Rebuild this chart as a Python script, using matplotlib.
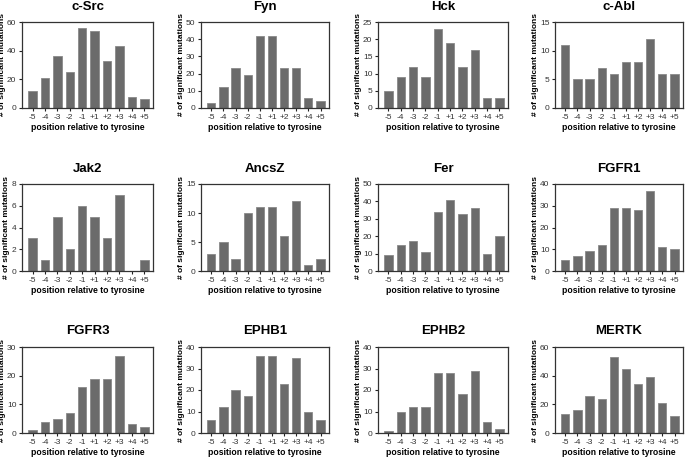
import matplotlib
matplotlib.use("Agg")
import matplotlib.pyplot as plt

positions = ["-5", "-4", "-3", "-2", "-1", "+1", "+2", "+3", "+4", "+5"]

kinases = ["c-Src", "Fyn", "Hck", "c-Abl",
           "Jak2", "AncsZ", "Fer", "FGFR1",
           "FGFR3", "EPHB1", "EPHB2", "MERTK"]

csrc = [12, 21, 36, 25, 56, 54, 33, 43, 8, 6]
fyn = [3, 12, 23, 19, 42, 42, 23, 23, 6, 4]
hck = [5, 9, 12, 9, 23, 19, 12, 17, 3, 3]
cabl = [11, 5, 5, 7, 6, 8, 8, 12, 6, 6]
jak2 = [3, 1, 5, 2, 6, 5, 3, 7, 0, 1]
ancsz = [3, 5, 2, 10, 11, 11, 6, 12, 1, 2]
fer = [9, 15, 17, 11, 34, 41, 33, 36, 10, 20]
fgfr1 = [5, 7, 9, 12, 29, 29, 28, 37, 11, 10]
fgfr3 = [1, 4, 5, 7, 16, 19, 19, 27, 3, 2]
ephb1 = [6, 12, 20, 17, 36, 36, 23, 35, 10, 6]
ephb2 = [1, 10, 12, 12, 28, 28, 18, 29, 5, 2]
mertk = [13, 16, 26, 24, 53, 45, 34, 39, 21, 12]

counts = [csrc, fyn, hck, cabl, jak2, ancsz, fer, fgfr1, fgfr3, ephb1, ephb2, mertk]
ymax = [60, 50, 25, 15, 8, 15, 50, 40, 30, 40, 40, 60]
ystep = [20, 10, 5, 5, 2, 5, 10, 10, 10, 10, 10, 20]

plt.rcParams['font.family'] = ['Liberation Sans', 'DejaVu Sans']

W, H = 686, 459
fig = plt.figure(figsize=(W / 100, H / 100), dpi=100)

# axes boxes in pixels: left, right per column; top, bottom per row
cols = [(22, 153), (201, 329), (378, 508), (555, 683)]
rows = [(22, 108), (184, 271), (347, 433)]

for i, name in enumerate(kinases):
    r, c = divmod(i, 4)
    x0, x1 = cols[c]
    y0, y1 = rows[r]
    ax = fig.add_axes([x0 / W, 1 - y1 / H, (x1 - x0) / W, (y1 - y0) / H])
    ax.bar(range(10), counts[i], width=0.68, color='#6b6b6b',
           edgecolor='#8a8a8a', linewidth=0.6)
    ax.set_xlim(-0.85, 9.7)
    ax.set_ylim(0, ymax[i])
    ax.set_yticks(range(0, ymax[i] + 1, ystep[i]))
    ax.set_xticks(range(10))
    ax.set_xticklabels(positions)
    ax.tick_params(labelsize=6, length=2.5, width=0.8, pad=1.5,
                   colors='#222222', labelcolor='#333333')
    for s in ax.spines.values():
        s.set_linewidth(0.9)
        s.set_color('#333333')
    ax.set_title(name, fontsize=9.5, fontweight='bold', pad=9)
    ax.set_xlabel("position relative to tyrosine", fontsize=6.2,
                  fontweight='bold', labelpad=2)
    ax.set_ylabel("# of significant mutations", fontsize=6.0,
                  fontweight='bold', labelpad=1)

plt.savefig('out.png', dpi=100)
